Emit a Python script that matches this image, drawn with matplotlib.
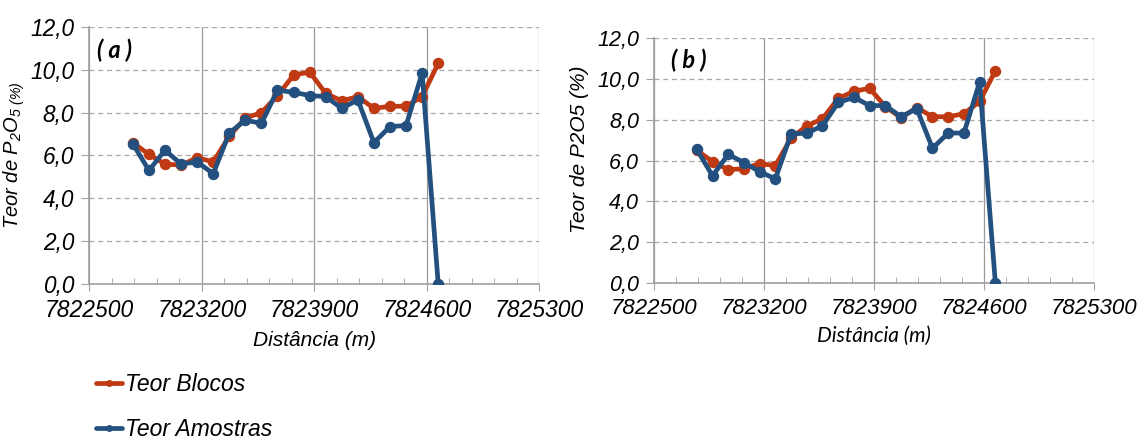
import matplotlib
matplotlib.use("Agg")
import matplotlib.pyplot as plt
from matplotlib.ticker import MultipleLocator, FuncFormatter

# distancia ao longo do perfil (m)
dist = [7822770, 7822870, 7822970, 7823070, 7823170, 7823270, 7823370,
        7823470, 7823570, 7823670, 7823770, 7823870, 7823970, 7824070,
        7824170, 7824270, 7824370, 7824470, 7824570, 7824670]

# teor de P2O5 (%) - perfil (a)
blocos_a = [6.6, 6.05, 5.6, 5.55, 5.9, 5.7, 6.9, 7.75, 8.0, 8.8,
            9.75, 9.9, 8.9, 8.55, 8.75, 8.2, 8.3, 8.3, 8.75, 10.3]
amostras_a = [6.55, 5.3, 6.25, 5.6, 5.7, 5.15, 7.05, 7.65, 7.5, 9.05,
              8.95, 8.8, 8.75, 8.2, 8.6, 6.6, 7.35, 7.4, 9.85, 0.0]

# teor de P2O5 (%) - perfil (b)
blocos_b = [6.5, 5.95, 5.55, 5.6, 5.85, 5.75, 7.1, 7.7, 8.05, 9.05,
            9.4, 9.55, 8.65, 8.1, 8.6, 8.15, 8.15, 8.3, 8.9, 10.4]
amostras_b = [6.55, 5.25, 6.3, 5.9, 5.45, 5.1, 7.3, 7.35, 7.7, 8.85,
              9.1, 8.7, 8.7, 8.15, 8.55, 6.6, 7.35, 7.35, 9.85, 0.0]

xticks = [7822500, 7823200, 7823900, 7824600, 7825300]
yticks = [0, 2, 4, 6, 8, 10, 12]

red = '#BF3A12'
blue = '#24507F'
arial = 'Liberation Sans'

plt.rcParams['mathtext.fontset'] = 'custom'
plt.rcParams['mathtext.rm'] = 'Liberation Sans:italic'
plt.rcParams['mathtext.it'] = 'Liberation Sans:italic'

fig = plt.figure(figsize=(11.41, 4.41), dpi=100)
ax1 = fig.add_axes([0.0784, 0.356, 0.3944, 0.5828])
ax2 = fig.add_axes([0.5735, 0.359, 0.3856, 0.554])


def perfil(ax, blocos, amostras, ysize, xsize):
    ax.plot(dist, blocos, color=red, lw=3.4, marker='o', ms=7.2,
            solid_capstyle='round', zorder=3, label='Teor Blocos')
    ax.plot(dist, amostras, color=blue, lw=3.4, marker='o', ms=7.2,
            solid_capstyle='round', zorder=4, label='Teor Amostras')
    ax.set_xlim(7822500, 7825300)
    ax.set_ylim(0, 12)
    ax.set_xticks(xticks)
    ax.set_yticks(yticks)
    ax.xaxis.set_minor_locator(MultipleLocator(140))
    ax.xaxis.set_major_formatter(FuncFormatter(lambda v, p: '%d' % v))
    ax.yaxis.set_major_formatter(FuncFormatter(lambda v, p: ('%.1f' % v).replace('.', ',')))
    ax.grid(axis='x', which='major', color='#9a9a9a', lw=0.9, ls='-')
    ax.grid(axis='y', which='major', color='#a8a8a8', lw=0.9, ls=(0, (4, 3)))
    ax.set_axisbelow(True)
    for s in ['top', 'right']:
        ax.spines[s].set_visible(False)
    for s in ['left', 'bottom']:
        ax.spines[s].set_color('#a0a0a0')
        ax.spines[s].set_linewidth(1.2)
    ax.tick_params(axis='x', which='major', direction='out', length=5,
                   color='#a0a0a0', pad=6)
    ax.tick_params(axis='x', which='minor', direction='in', length=4,
                   color='#a0a0a0')
    ax.tick_params(axis='y', which='major', direction='out', length=6,
                   color='#a0a0a0', pad=5)
    for lab in ax.get_xticklabels() + ax.get_yticklabels():
        lab.set_family(arial)
        lab.set_style('italic')
    for lab in ax.get_xticklabels():
        lab.set_fontsize(xsize)
    for lab in ax.get_yticklabels():
        lab.set_fontsize(ysize)


perfil(ax1, blocos_a, amostras_a, 16.3, 16.5)
perfil(ax2, blocos_b, amostras_b, 15.5, 16)

# rotulos dos eixos
ax1.set_xlabel('Distância (m)', family=arial, style='italic', fontsize=15, labelpad=6)
ax1.set_ylabel(r'Teor de P$_{2}$O$_{5\ (\%)}$', family=arial, style='italic',
               fontsize=14.5, labelpad=2)
ax2.set_xlabel('Distância (m)', family='Lato', style='italic', fontsize=15, labelpad=5)
ax2.set_ylabel('Teor de P2O5 (%)', family=arial, style='italic', fontsize=15)
ax2.yaxis.set_label_coords(-0.148, 0.545)

ax1.text(0.016, 0.91, '( a )', transform=ax1.transAxes, family='Lato',
         style='italic', weight='bold', fontsize=17, va='center', ha='left')
ax2.text(0.038, 0.91, '( b )', transform=ax2.transAxes, family='Lato',
         style='italic', weight='bold', fontsize=17, va='center', ha='left')

handles, labels = ax1.get_legend_handles_labels()
leg = fig.legend(handles, labels, loc='upper left', bbox_to_anchor=(0.066, 0.2),
                 frameon=False, prop={'family': arial, 'style': 'italic', 'size': 16.5},
                 handlelength=1.15, handletextpad=0.1, labelspacing=0.95,
                 markerscale=0.55)

fig.savefig('out.png', dpi=100)
